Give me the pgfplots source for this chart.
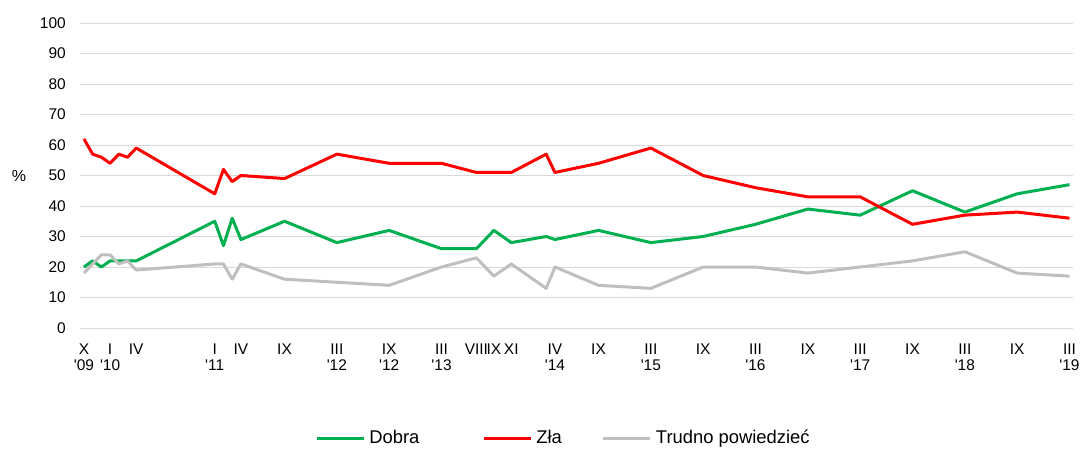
\documentclass[border=0pt]{standalone}
\usepackage{pgfplots}
\pgfplotsset{compat=1.18}
\usepackage{pgfplotstable}
\usepackage{fontspec}
\setmainfont{Liberation Sans}

\definecolor{dobra}{HTML}{00B050}
\definecolor{zla}{HTML}{FF0000}
\definecolor{trudno}{HTML}{BFBFBF}
\definecolor{siatka}{HTML}{D9D9D9}

% m = months since X 2009
\pgfplotstableread{
m   dobra zla trudno
0   20    62  18
1   22    57  21
2   20    56  24
3   22    54  24
4   22    57  21
5   22    56  22
6   22    59  19
15  35    44  21
16  27    52  21
17  36    48  16
18  29    50  21
23  35    49  16
29  28    57  15
35  32    54  14
41  26    54  20
45  26    51  23
47  32    51  17
49  28    51  21
53  30    57  13
54  29    51  20
59  32    54  14
65  28    59  13
71  30    50  20
77  34    46  20
83  39    43  18
89  37    43  20
95  45    34  22
101 38    37  25
107 44    38  18
113 47    36  17
}\sondaz

\begin{document}
\begin{tikzpicture}
\useasboundingbox (-60pt,-92.25pt) rectangle (752.25pt,246pt);
\begin{axis}[
    at={(0,0)}, anchor=south west,
    scale only axis,
    width=744.75pt, height=228.75pt,
    xmin=-0.45, xmax=113.4,
    ymin=0, ymax=100,
    axis line style={draw=none},
    major tick length=0pt,
    tick style={draw=none},
    ytick={0,10,...,100},
    ymajorgrids,
    grid style={siatka, line width=0.75pt},
    xtick={0,3,6,15,18,23,29,35,41,45,47,49,54,59,65,71,77,83,89,95,101,107,113},
    xticklabels={{X\\\textquotesingle09},{I\\\textquotesingle10},{IV},{I\\\textquotesingle11},{IV},{IX},
        {III\\\textquotesingle12},{IX\\\textquotesingle12},{III\\\textquotesingle13},{VIII},{IX},{XI},
        {IV\\\textquotesingle14},{IX},{III\\\textquotesingle15},{IX},{III\\\textquotesingle16},{IX},
        {III\\\textquotesingle17},{IX},{III\\\textquotesingle18},{IX},{III\\\textquotesingle19}},
    tick label style={font=\fontsize{11.6}{12.45}\selectfont},
    xticklabel style={align=center, anchor=north, inner sep=0pt, yshift=-11.5pt},
    yticklabel style={anchor=east, inner sep=0pt, xshift=-10.5pt},
    /pgf/number format/assume math mode=true,
    ylabel={\%},
    every axis y label/.style={at={(axis description cs:0,0.5)}, anchor=center,
        xshift=-45.75pt, font=\fontsize{12}{14}\selectfont},
    every axis plot/.append style={line width=2.25pt, line join=round, no markers},
    legend columns=3,
    legend image code/.code={\draw[#1] (0pt,0pt) -- (35.25pt,0pt);},
    legend style={at={(axis description cs:0,0)}, anchor=west,
        xshift=176.25pt, yshift=-82.5pt, draw=none, fill=none, inner sep=0pt,
        font=\fontsize{13.8}{16}\selectfont, nodes={inner sep=0pt},
        /tikz/every odd column/.style={column sep=3pt},
        /tikz/every even column/.style={column sep=30pt}},
]
\addplot[dobra] table[x=m, y=dobra] {\sondaz};
\addlegendentry{Dobra\rule{17.25pt}{0pt}}
\addplot[zla] table[x=m, y=zla] {\sondaz};
\addlegendentry{Zła}
\addplot[trudno] table[x=m, y=trudno] {\sondaz};
\addlegendentry{Trudno powiedzieć}
\end{axis}
\end{tikzpicture}
\end{document}
